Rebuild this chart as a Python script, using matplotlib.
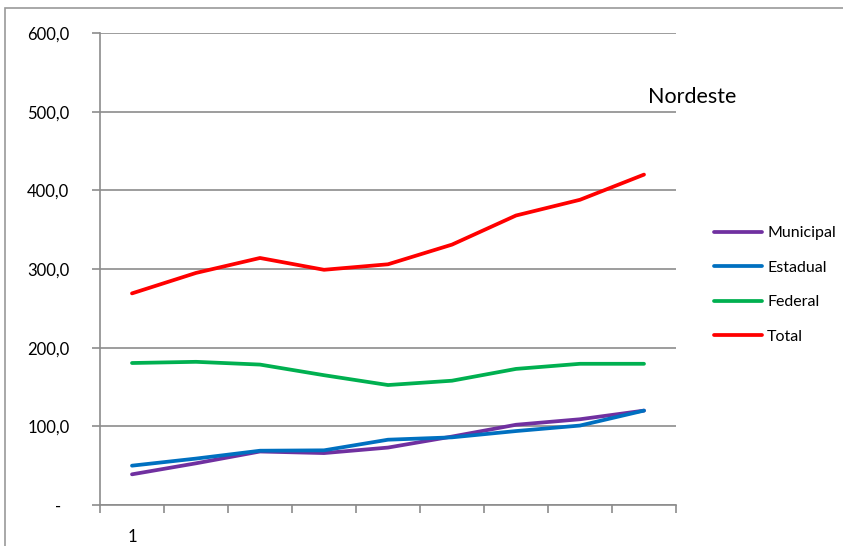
import matplotlib.pyplot as plt
from matplotlib.patches import Rectangle
from matplotlib.ticker import FuncFormatter

# values (9 periods, only the first is labelled)
periods = [1, 2, 3, 4, 5, 6, 7, 8, 9]
municipal = [39, 53, 68, 66, 73, 87, 102, 109, 120]
estadual = [50, 59, 69, 69.5, 83, 86, 94, 101, 120]
federal = [180.5, 182, 178.5, 165, 152.5, 158, 173, 179.5, 179.5]
total = [269, 295, 314, 299, 306, 331, 368, 388, 420]

plt.rcParams['font.family'] = ['Lato', 'DejaVu Sans']
grid_col = '#8c8c8c'

fig = plt.figure(figsize=(8.43, 5.46), dpi=100)
ax = fig.add_axes([100 / 843, 1 - 505 / 546, 576 / 843, 472 / 546])

# outer chart border (only top and left visible)
fig.patches.append(Rectangle((5 / 843, -0.1), 1.2, 1 - 8 / 546 + 0.1,
                             transform=fig.transFigure, fill=False,
                             edgecolor='#9a9a9a', linewidth=1.2))

ax.plot(periods, municipal, color='#7030a0', lw=2.7, label='Municipal', solid_capstyle='round')
ax.plot(periods, estadual, color='#0070c0', lw=2.7, label='Estadual', solid_capstyle='round')
ax.plot(periods, federal, color='#00b050', lw=2.7, label='Federal', solid_capstyle='round')
ax.plot(periods, total, color='#ff0000', lw=2.7, label='Total', solid_capstyle='round')

ax.set_xlim(0.5, 9.5)
ax.set_ylim(0, 600)
ax.set_yticks(range(0, 601, 100))
ax.yaxis.set_major_formatter(FuncFormatter(
    lambda v, p: '-  ' if v == 0 else f'{v:.1f}'.replace('.', ',')))
ax.grid(axis='y', color=grid_col, lw=1.2)
ax.set_axisbelow(True)

ax.set_xticks([x + 0.5 for x in range(0, 10)])
ax.set_xticklabels([])
ax.set_xticks([1], minor=True)
ax.set_xticklabels(['1'], minor=True)
ax.tick_params(axis='x', which='minor', length=0, pad=17, labelsize=12)
ax.tick_params(axis='x', which='major', length=6, color=grid_col, width=1.2)
ax.tick_params(axis='y', length=6, color=grid_col, width=1.2, pad=16, labelsize=12)

for s in ['top', 'right']:
    ax.spines[s].set_visible(False)
for s in ['left', 'bottom']:
    ax.spines[s].set_color(grid_col)
    ax.spines[s].set_linewidth(1.2)

fig.text(648 / 843, 1 - 97 / 546, 'Nordeste', fontsize=15.5, va='center', ha='left')

ax.legend(loc='center left', bbox_to_anchor=(700 / 843, 1 - 285 / 546),
          bbox_transform=fig.transFigure, frameon=False, fontsize=11.5,
          handlelength=3.0, handletextpad=0.3, labelspacing=1.28)

fig.savefig('out.png', dpi=100)
